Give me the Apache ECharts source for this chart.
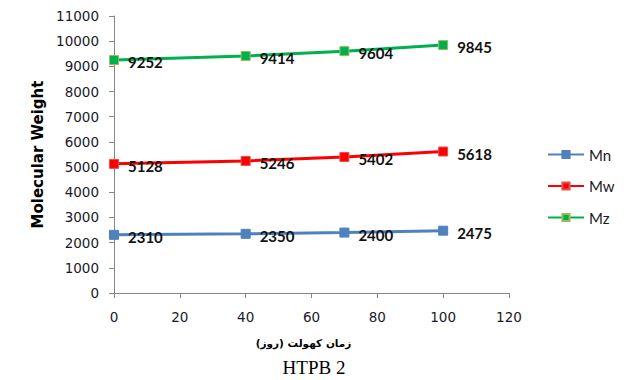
<!DOCTYPE html>
<html>
<head>
<meta charset="utf-8">
<script src="https://cdn.jsdelivr.net/npm/echarts@6/dist/echarts.min.js"></script>
<style>
  html, body { margin: 0; padding: 0; background: #fff; }
  #chart { width: 630px; height: 380px; }
</style>
</head>
<body>
<div id="chart"></div>
<script>
// Aging time (days) and molecular weight averages for HTPB 2
const days = [0, 40, 70, 100];
const mn = [2310, 2350, 2400, 2475];
const mw = [5128, 5246, 5402, 5618];
const mz = [9252, 9414, 9604, 9845];
const seriesNames = ['Mn', 'Mw', 'Mz'];

const pairs = (vals) => days.map((d, i) => [d, vals[i]]);

const axisColor = '#868686';
const tickFont = { fontFamily: 'DejaVu Sans', fontSize: 13.5, color: '#1a1a2a' };
const plain = (v) => String(v);

function lineSeries(name, vals, color, border) {
  return {
    name: name,
    type: 'line',
    data: pairs(vals),
    symbol: 'rect',
    symbolSize: 9,
    lineStyle: { color: color, width: 3 },
    itemStyle: { color: color, borderColor: border, borderWidth: 1 },
    label: {
      show: true,
      position: 'right',
      distance: 9,
      offset: [0, 2],
      fontFamily: 'Lato',
      fontWeight: 'bold',
      fontSize: 15,
      color: '#111',
      formatter: (p) => String(p.value[1])
    },
    emphasis: { disabled: true },
    animation: false
  };
}

const chart = echarts.init(document.getElementById('chart'), null, { renderer: 'svg' });
chart.setOption({
  backgroundColor: '#fff',
  animation: false,
  title: {
    text: 'HTPB 2',
    left: 309,
    top: 353,
    textAlign: 'center',
    textStyle: { fontFamily: 'Liberation Serif', fontSize: 19, fontWeight: 'normal', color: '#000' }
  },
  legend: {
    data: seriesNames,
    orient: 'vertical',
    left: 547,
    top: 147,
    padding: 0,
    itemGap: 16.5,
    itemWidth: 36,
    itemHeight: 9,
    textStyle: { fontFamily: 'Lato', fontSize: 15, color: '#1a1a2a' }
  },
  grid: { left: 114, right: 121, top: 16, bottom: 87, containLabel: false },
  xAxis: {
    type: 'value',
    min: 0,
    max: 120,
    interval: 20,
    name: 'زمان کهولت (روز)',
    nameLocation: 'middle',
    nameGap: 44,
    nameTextStyle: { fontFamily: 'DejaVu Sans', fontSize: 10.5, fontWeight: 'bold', color: '#000', padding: [0, 16, 0, 0] },
    axisLine: { show: true, lineStyle: { color: axisColor, width: 1 } },
    axisTick: { show: true, inside: false, length: 5, lineStyle: { color: axisColor } },
    axisLabel: Object.assign({ margin: 17, formatter: plain }, tickFont),
    splitLine: { show: false }
  },
  yAxis: {
    type: 'value',
    min: 0,
    max: 11000,
    interval: 1000,
    name: 'Molecular Weight',
    nameLocation: 'middle',
    nameGap: 68,
    nameTextStyle: { fontFamily: 'DejaVu Sans', fontSize: 15, fontWeight: 'bold', color: '#000' },
    axisLine: { show: true, lineStyle: { color: axisColor, width: 1 } },
    axisTick: { show: true, inside: false, length: 5, lineStyle: { color: axisColor } },
    axisLabel: Object.assign({ margin: 15, formatter: plain }, tickFont),
    splitLine: { show: false }
  },
  series: [
    lineSeries(seriesNames[0], mn, '#4f81bd', '#4f81bd'),
    lineSeries(seriesNames[1], mw, '#ff0000', '#e05050'),
    lineSeries(seriesNames[2], mz, '#00b050', '#9bbb59')
  ]
});
</script>
</body>
</html>
